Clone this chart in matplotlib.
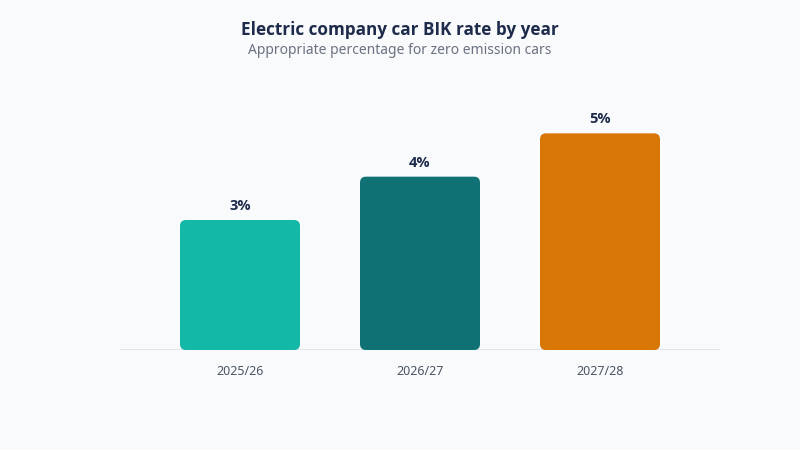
import matplotlib

matplotlib.use("Agg")

import matplotlib.pyplot as plt  # noqa: E402
from matplotlib.patches import FancyBboxPatch  # noqa: E402

years = ["2025/26", "2026/27", "2027/28"]
rates = [3, 4, 5]
colors = ["#14b8a6", "#0f7173", "#d97706"]

BG = "#f8fafc"
NAVY = "#1e2b4b"
GREY = "#6b7280"
BOLD_FONT = ["Open Sans", "DejaVu Sans"]

plt.rcParams["font.family"] = ["Noto Sans", "DejaVu Sans"]

fig = plt.figure(figsize=(8, 4.5), dpi=100, facecolor=BG)
ax = fig.add_axes([0.15, 100 / 450, 0.75, 260 / 450])
ax.set_facecolor(BG)
ax.set_xlim(-2 / 3, 2 + 2 / 3)
ax.set_ylim(0, 6)

# rounded corners in pixel units, converted to data units for each axis
bw = 2 / 3
ax_w_px = 0.75 * 800
ax_h_px = 260
x_per_px = (ax.get_xlim()[1] - ax.get_xlim()[0]) / ax_w_px
y_per_px = (ax.get_ylim()[1] - ax.get_ylim()[0]) / ax_h_px
radius_px = 6

for i, (v, c) in enumerate(zip(rates, colors)):
    patch = FancyBboxPatch(
        (i - bw / 2, 0),
        bw,
        v,
        boxstyle=f"round,pad=0,rounding_size={radius_px * x_per_px}",
        mutation_aspect=y_per_px / x_per_px,
        facecolor=c,
        edgecolor="none",
        zorder=3,
    )
    ax.add_patch(patch)
    ax.annotate(
        f"{v}%",
        (i, v),
        xytext=(0, 5),
        textcoords="offset points",
        ha="center",
        va="bottom",
        fontsize=10.5,
        fontweight="bold",
        family=BOLD_FONT,
        color=NAVY,
    )

ax.axhline(0, color="#dfe2e7", linewidth=2, zorder=2)
for s in ax.spines.values():
    s.set_visible(False)
ax.set_yticks([])
ax.set_xticks(range(len(years)))
ax.set_xticklabels(years, fontsize=9, color="#4b5563")
ax.tick_params(axis="x", length=0, pad=11)

fig.text(0.5, 1 - 30 / 450, "Electric company car BIK rate by year",
         ha="center", va="center", fontsize=12.3, fontweight="bold",
         family=BOLD_FONT, color=NAVY)
fig.text(0.5, 1 - 51 / 450, "Appropriate percentage for zero emission cars",
         ha="center", va="center", fontsize=10, color=GREY)

fig.savefig("out.png", dpi=100, facecolor=BG)
